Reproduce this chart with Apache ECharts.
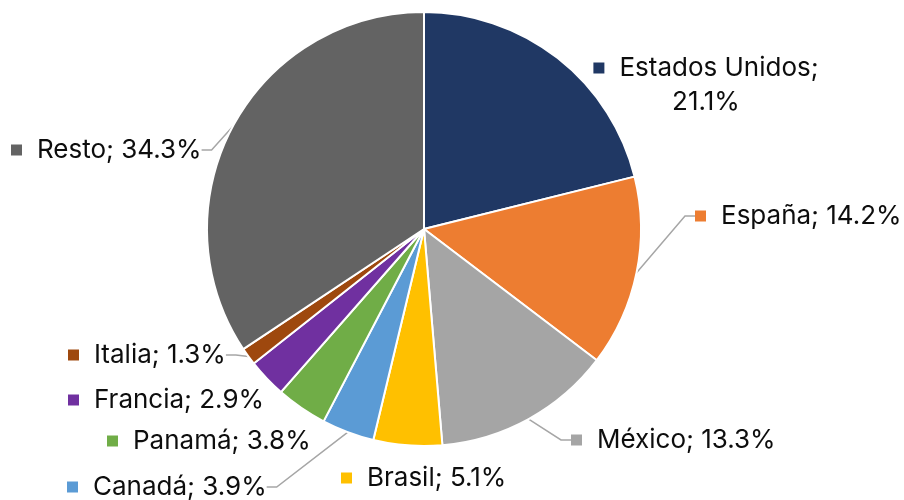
<!DOCTYPE html>
<html>
<head>
<meta charset="utf-8">
<script src="https://cdn.jsdelivr.net/npm/echarts@6/dist/echarts.min.js"></script>
<style>
  html, body { margin: 0; padding: 0; background: #fff; }
  #chart { width: 904px; height: 500px; }
</style>
</head>
<body>
<div id="chart"></div>
<script>
// country shares, % of total
var countries = ['Estados Unidos', 'España', 'México', 'Brasil', 'Canadá', 'Panamá', 'Francia', 'Italia', 'Resto'];
var shares = [21.1, 14.2, 13.3, 5.1, 3.9, 3.8, 2.9, 1.3, 34.3];

var palette = ['#203864', '#ED7D31', '#A5A5A5', '#FFC000', '#5B9BD5', '#70AD47', '#7030A0', '#9E480E', '#636363'];
// where each label sits (x, middle y, align) and whether it has a leader line
var labelSpots = [
    [706, 85, 'center', false],
    [695, 216, 'left', true],
    [571, 440, 'left', true],
    [341, 478, 'left', false],
    [67, 487, 'left', true],
    [107, 441, 'left', false],
    [68, 400, 'left', false],
    [68, 355, 'left', true],
    [11, 150, 'left', true]
];
var lineDrop = 16; // bottom padding: moves the leader line anchor down toward the baseline

var rich = {
    s: {width: 15},
    t: {fontSize: 26, color: '#0d0d0d', fontFamily: 'Inter', lineHeight: 34}
};
palette.forEach(function (c, i) {
    rich['m' + i] = {width: 11, height: 11, backgroundColor: c};
});

var pieData = countries.map(function (name, i) {
    var lined = labelSpots[i][3];
    return {
        name: name,
        value: shares[i],
        itemStyle: {color: palette[i]},
        label: {padding: lined ? [0, 0, lineDrop, 0] : 0},
        labelLine: {show: lined}
    };
});

var chart = echarts.init(document.getElementById('chart'));
var option = {
    animation: false,
    series: [
        {
            type: 'pie',
            center: [424, 229],
            radius: 217,
            startAngle: 90,
            clockwise: true,
            data: pieData,
            itemStyle: {
                borderColor: '#fff',
                borderWidth: 2
            },
            label: {
                show: true,
                position: 'outside',
                rich: rich,
                formatter: function (p) {
                    var pct = p.value.toFixed(1) + '%';
                    if (p.dataIndex === 0) {
                        return '{m0|}{s|}{t|' + p.name + ';}\n{t|' + pct + '}';
                    }
                    return '{m' + p.dataIndex + '|}{s|}{t|' + p.name + '; ' + pct + '}';
                }
            },
            labelLine: {
                length: 10,
                length2: 10,
                lineStyle: {color: '#A6A6A6', width: 1.5}
            },
            labelLayout: function (params) {
                var s = labelSpots[params.dataIndex];
                return {
                    x: s[0],
                    y: s[1] + (s[3] ? lineDrop / 2 : 0),
                    align: s[2],
                    verticalAlign: 'middle'
                };
            }
        }
    ]
};
chart.setOption(option);
</script>
</body>
</html>
